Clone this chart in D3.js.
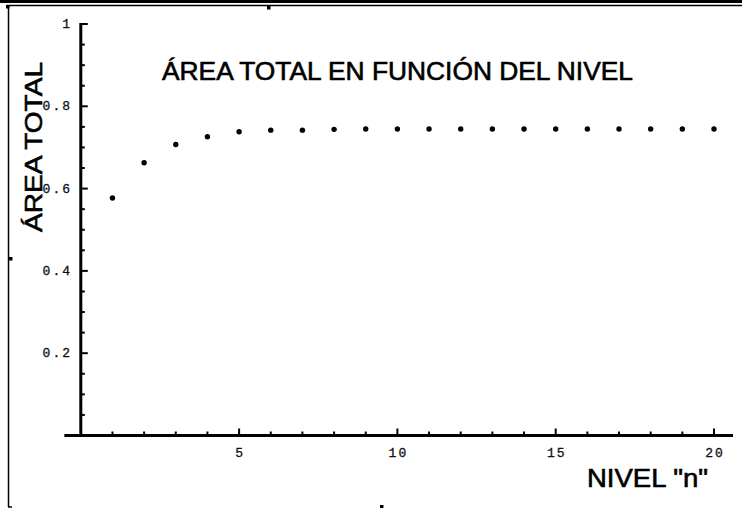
<!DOCTYPE html>
<html><head><meta charset="utf-8">
<script src="https://cdn.jsdelivr.net/npm/d3@7"></script>
<style>body{margin:0;background:#fff}svg{display:block}</style>
</head><body>
<script>
const niveles = [1,2,3,4,5,6,7,8,9,10,11,12,13,14,15,16,17,18,19,20];
const areaTotal = [0.577,0.663,0.707,0.726,0.738,0.742,0.742,0.744,0.745,0.745,0.745,0.745,0.745,0.745,0.745,0.745,0.745,0.745,0.745,0.745];
const yTicks = [0.2,0.4,0.6,0.8,1];
const yTickLabels = ["0.2","0.4","0.6","0.8","1"];
const xTicks = [5,10,15,20];
const xTickLabels = ["5","10","15","20"];
const titleText = "ÁREA TOTAL EN FUNCIÓN DEL NIVEL";
const yLabel = "ÁREA TOTAL";
const xLabel = "NIVEL \"n\"";

const W=742,H=508;
const svg=d3.select("body").append("svg").attr("width",W).attr("height",H);

// frame decorations
svg.append("rect").attr("x",0).attr("y",0).attr("width",W).attr("height",3).attr("fill","#000");
svg.append("line").attr("x1",7).attr("x2",W).attr("y1",5.5).attr("y2",5.5).attr("stroke","#000").attr("stroke-width",1.5);
svg.append("line").attr("x1",8.5).attr("x2",8.5).attr("y1",5).attr("y2",507).attr("stroke","#000").attr("stroke-width",1.5);
svg.append("line").attr("x1",8).attr("x2",12).attr("y1",507).attr("y2",507).attr("stroke","#000").attr("stroke-width",1.5);
[[6,5],[9,257],[267,6],[380,505]].forEach(p=>svg.append("rect").attr("x",p[0]).attr("y",p[1]).attr("width",3.5).attr("height",3.5).attr("fill","#000"));

const x=d3.scaleLinear().domain([0,20]).range([80.8,714]);
const y=d3.scaleLinear().domain([0,1]).range([435.5,24]);

// axes lines
svg.append("line").attr("x1",x(-0.52)).attr("x2",x(20.6)).attr("y1",y(0)).attr("y2",y(0)).attr("stroke","#000").attr("stroke-width",3);
svg.append("line").attr("x1",x(0)).attr("x2",x(0)).attr("y1",y(1)-1).attr("y2",y(0)).attr("stroke","#000").attr("stroke-width",3);

const mono="'Liberation Mono','DejaVu Sans Mono',monospace";
const sans="'Liberation Sans',Arial,sans-serif";

// y ticks
const yMinor=d3.range(1,20).map(i=>i*0.05).filter(v=>Math.abs(v*5-Math.round(v*5))>1e-6);
svg.selectAll(".ymin").data(yMinor).enter().append("line")
  .attr("x1",x(0)).attr("x2",x(0)+4).attr("y1",d=>y(d)).attr("y2",d=>y(d)).attr("stroke","#000").attr("stroke-width",2);
svg.selectAll(".ymaj").data(yTicks).enter().append("line")
  .attr("x1",x(0)).attr("x2",x(0)+7).attr("y1",d=>y(d)).attr("y2",d=>y(d)).attr("stroke","#000").attr("stroke-width",2);
svg.selectAll(".ylab").data(yTicks).enter().append("text")
  .attr("x",72).attr("y",d=>y(d)+4).attr("text-anchor","end")
  .attr("font-family",mono).attr("font-size",13)
  .attr("letter-spacing",2).attr("fill","#111").attr("stroke","#111").attr("stroke-width",0.3)
  .text((d,i)=>yTickLabels[i]);

// x ticks
const xMinor=d3.range(1,21).filter(v=>v%5!==0);
svg.selectAll(".xmin").data(xMinor).enter().append("line")
  .attr("x1",d=>x(d)).attr("x2",d=>x(d)).attr("y1",y(0)).attr("y2",y(0)-4).attr("stroke","#000").attr("stroke-width",2);
svg.selectAll(".xmaj").data(xTicks).enter().append("line")
  .attr("x1",d=>x(d)).attr("x2",d=>x(d)).attr("y1",y(0)).attr("y2",y(0)-7).attr("stroke","#000").attr("stroke-width",2);
svg.selectAll(".xlab").data(xTicks).enter().append("text")
  .attr("x",d=>x(d)+1).attr("y",457).attr("text-anchor","middle")
  .attr("font-family",mono).attr("font-size",13)
  .attr("letter-spacing",2).attr("fill","#111").attr("stroke","#111").attr("stroke-width",0.3)
  .text((d,i)=>xTickLabels[i]);

// points
svg.selectAll(".pt").data(niveles).enter().append("circle")
  .attr("cx",d=>x(d)).attr("cy",(d,i)=>y(areaTotal[i])).attr("r",2.7).attr("fill","#000");

// title
svg.append("text").attr("x",162).attr("y",80).attr("font-family",sans)
  .attr("font-size",25).attr("textLength",471).attr("lengthAdjust","spacingAndGlyphs")
  .attr("fill","#000").attr("stroke","#000").attr("stroke-width",0.6).text(titleText);

// y label
svg.append("text").attr("transform","translate(42,232) rotate(-90)")
  .attr("font-family",sans).attr("font-size",24)
  .attr("textLength",170).attr("lengthAdjust","spacingAndGlyphs")
  .attr("fill","#000").attr("stroke","#000").attr("stroke-width",0.6).text(yLabel);

// x label
svg.append("text").attr("x",587).attr("y",487).attr("font-family",sans)
  .attr("font-size",25).attr("textLength",121).attr("lengthAdjust","spacingAndGlyphs")
  .attr("fill","#000").attr("stroke","#000").attr("stroke-width",0.6).text(xLabel);
</script>
</body></html>
